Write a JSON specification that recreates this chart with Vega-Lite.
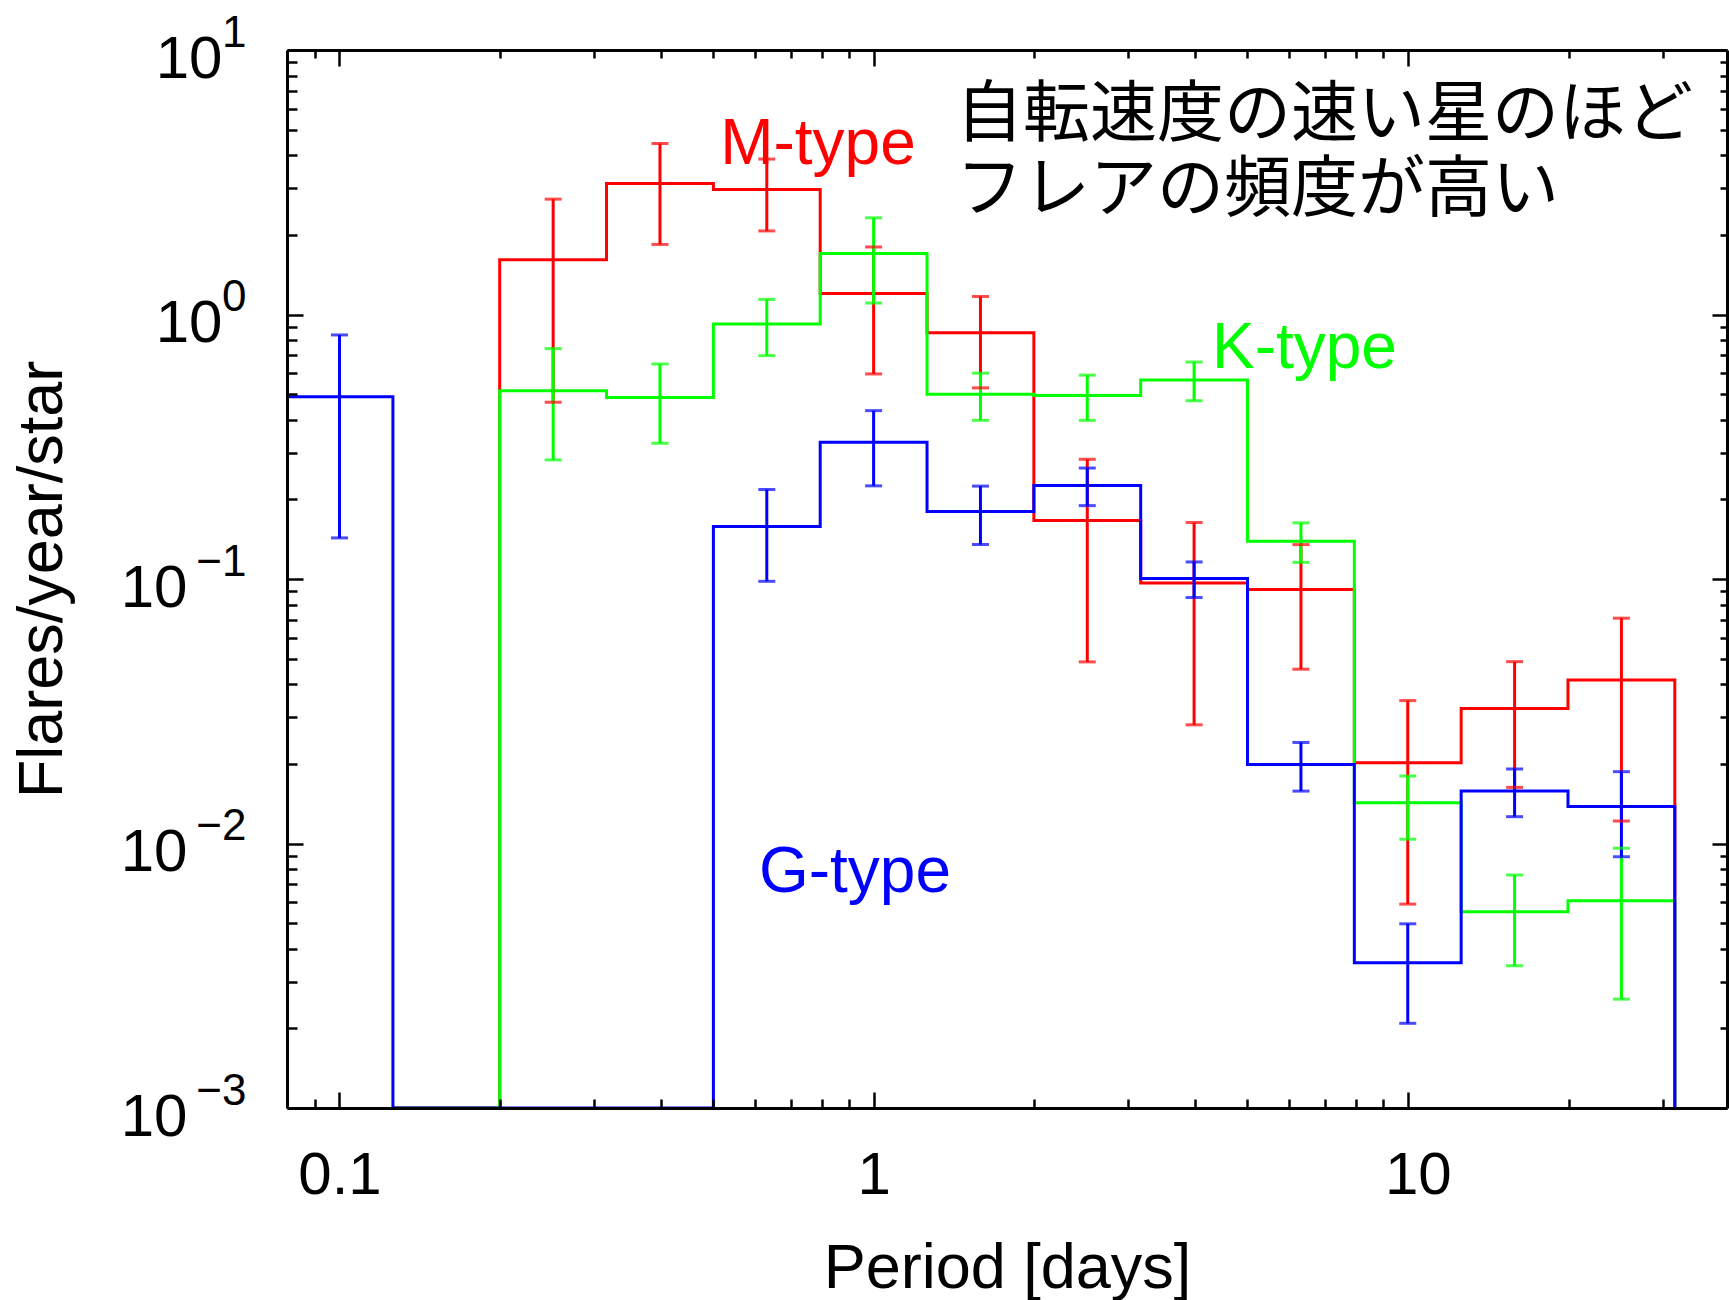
{
  "$schema": "https://vega.github.io/schema/vega-lite/v6.json",
  "width": 1440,
  "height": 1058,
  "autosize": {"type": "none"},
  "padding": {"left": 287, "top": 50, "right": 2, "bottom": 192},
  "background": "white",
  "config": {
    "view": {"stroke": null},
    "font": "Liberation Sans"
  },
  "datasets": {
    "steps": [
      {"type": "M", "period": 0.1259, "rate": 0.001},
      {"type": "M", "period": 0.1995, "rate": 1.61},
      {"type": "M", "period": 0.3162, "rate": 3.13},
      {"type": "M", "period": 0.5012, "rate": 2.97},
      {"type": "M", "period": 0.7943, "rate": 1.20},
      {"type": "M", "period": 1.2589, "rate": 0.853},
      {"type": "M", "period": 1.9953, "rate": 0.1663},
      {"type": "M", "period": 3.1623, "rate": 0.0966},
      {"type": "M", "period": 5.0119, "rate": 0.0913},
      {"type": "M", "period": 7.9433, "rate": 0.0202},
      {"type": "M", "period": 12.589, "rate": 0.0324},
      {"type": "M", "period": 19.953, "rate": 0.0415},
      {"type": "M", "period": 31.623, "rate": 0.001},
      {"type": "K", "period": 0.1259, "rate": 0.001},
      {"type": "K", "period": 0.1995, "rate": 0.515},
      {"type": "K", "period": 0.3162, "rate": 0.486},
      {"type": "K", "period": 0.5012, "rate": 0.921},
      {"type": "K", "period": 0.7943, "rate": 1.70},
      {"type": "K", "period": 1.2589, "rate": 0.499},
      {"type": "K", "period": 1.9953, "rate": 0.494},
      {"type": "K", "period": 3.1623, "rate": 0.565},
      {"type": "K", "period": 5.0119, "rate": 0.139},
      {"type": "K", "period": 7.9433, "rate": 0.01427},
      {"type": "K", "period": 12.589, "rate": 0.00552},
      {"type": "K", "period": 19.953, "rate": 0.00607},
      {"type": "K", "period": 31.623, "rate": 0.001},
      {"type": "G", "period": 0.0794, "rate": 0.489},
      {"type": "G", "period": 0.1259, "rate": 0.001},
      {"type": "G", "period": 0.5012, "rate": 0.158},
      {"type": "G", "period": 0.7943, "rate": 0.329},
      {"type": "G", "period": 1.2589, "rate": 0.180},
      {"type": "G", "period": 1.9953, "rate": 0.2255},
      {"type": "G", "period": 3.1623, "rate": 0.1005},
      {"type": "G", "period": 5.0119, "rate": 0.0199},
      {"type": "G", "period": 7.9433, "rate": 0.00354},
      {"type": "G", "period": 12.589, "rate": 0.0158},
      {"type": "G", "period": 19.953, "rate": 0.0138},
      {"type": "G", "period": 31.623, "rate": 0.001}
    ],
    "errs": [
      {"type": "M", "period": 0.2512, "lo": 0.466, "hi": 2.73},
      {"type": "M", "period": 0.3981, "lo": 1.84, "hi": 4.43},
      {"type": "M", "period": 0.631, "lo": 2.07, "hi": 3.87},
      {"type": "M", "period": 1.0, "lo": 0.596, "hi": 1.80},
      {"type": "M", "period": 1.585, "lo": 0.528, "hi": 1.17},
      {"type": "M", "period": 2.512, "lo": 0.0486, "hi": 0.2835},
      {"type": "M", "period": 3.981, "lo": 0.0281, "hi": 0.1635},
      {"type": "M", "period": 6.31, "lo": 0.0456, "hi": 0.1349},
      {"type": "M", "period": 10.0, "lo": 0.0059, "hi": 0.0347},
      {"type": "M", "period": 15.85, "lo": 0.0163, "hi": 0.0487},
      {"type": "M", "period": 25.12, "lo": 0.01216, "hi": 0.0711},
      {"type": "K", "period": 0.2512, "lo": 0.282, "hi": 0.743},
      {"type": "K", "period": 0.3981, "lo": 0.326, "hi": 0.650},
      {"type": "K", "period": 0.631, "lo": 0.699, "hi": 1.14},
      {"type": "K", "period": 1.0, "lo": 1.105, "hi": 2.32},
      {"type": "K", "period": 1.585, "lo": 0.398, "hi": 0.600},
      {"type": "K", "period": 2.512, "lo": 0.398, "hi": 0.590},
      {"type": "K", "period": 3.981, "lo": 0.472, "hi": 0.661},
      {"type": "K", "period": 6.31, "lo": 0.1156, "hi": 0.163},
      {"type": "K", "period": 10.0, "lo": 0.01038, "hi": 0.0180},
      {"type": "K", "period": 15.85, "lo": 0.00345, "hi": 0.0076},
      {"type": "K", "period": 25.12, "lo": 0.00258, "hi": 0.0096},
      {"type": "G", "period": 0.1, "lo": 0.143, "hi": 0.837},
      {"type": "G", "period": 0.631, "lo": 0.098, "hi": 0.218},
      {"type": "G", "period": 1.0, "lo": 0.225, "hi": 0.433},
      {"type": "G", "period": 1.585, "lo": 0.135, "hi": 0.2245},
      {"type": "G", "period": 2.512, "lo": 0.1894, "hi": 0.2627},
      {"type": "G", "period": 3.981, "lo": 0.0851, "hi": 0.116},
      {"type": "G", "period": 6.31, "lo": 0.01578, "hi": 0.0241},
      {"type": "G", "period": 10.0, "lo": 0.00209, "hi": 0.00497},
      {"type": "G", "period": 15.85, "lo": 0.01263, "hi": 0.01913},
      {"type": "G", "period": 25.12, "lo": 0.00891, "hi": 0.01869}
    ],
    "labels": [
      {"type": "M", "label": "M-type", "period": 0.516, "rate": 3.71},
      {"type": "K", "label": "K-type", "period": 4.30, "rate": 0.626},
      {"type": "G", "label": "G-type", "period": 0.610, "rate": 0.00657}
    ],
    "note": [
      {"text": "自転速度の速い星のほど\nフレアの頻度が高い", "period": 1.426, "rate": 4.75}
    ]
  },
  "resolve": {"axis": {"x": "independent", "y": "independent"}},
  "layer": [
    {
      "data": {"name": "steps"},
      "mark": {"type": "line", "interpolate": "step-after", "strokeWidth": 3, "clip": true},
      "encoding": {
        "x": {"field": "period", "type": "quantitative",
          "scale": {"type": "log", "domain": [0.07975, 39.6], "nice": false},
          "axis": {"orient": "bottom", "values": [0.09, 0.1, 0.2, 0.3, 0.4, 0.5, 0.6, 0.7, 0.8, 0.9, 1, 2, 3, 4, 5, 6, 7, 8, 9, 10, 20, 30],
            "labels": false, "title": null, "grid": false, "zindex": 1,
            "domain": true, "domainColor": "black", "domainWidth": 3,
            "tickColor": "black", "tickWidth": 2.5,
            "tickSize": {"condition": {"test": "abs(log(datum.value)/LN10 - round(log(datum.value)/LN10)) < 1e-6", "value": -16}, "value": -9}}},
        "y": {"field": "rate", "type": "quantitative",
          "scale": {"type": "log", "domain": [0.001, 10], "nice": false},
          "axis": {"orient": "left", "values": [0.001, 0.002, 0.003, 0.004, 0.005, 0.006, 0.007, 0.008, 0.009, 0.01, 0.02, 0.03, 0.04, 0.05, 0.06, 0.07, 0.08, 0.09, 0.1, 0.2, 0.3, 0.4, 0.5, 0.6, 0.7, 0.8, 0.9, 1, 2, 3, 4, 5, 6, 7, 8, 9, 10],
            "labels": false, "grid": false, "zindex": 1,
            "domain": true, "domainColor": "black", "domainWidth": 3,
            "tickColor": "black", "tickWidth": 2.5,
            "tickSize": {"condition": {"test": "abs(log(datum.value)/LN10 - round(log(datum.value)/LN10)) < 1e-6", "value": -16}, "value": -10},
            "title": "Flares/year/star", "titleFont": "Liberation Sans", "titleFontSize": 63, "titleFontWeight": "normal", "titleColor": "black",
            "titleX": -226, "titleY": 529, "titleAngle": -90, "titleAlign": "center", "titleBaseline": "alphabetic"}},
        "color": {"field": "type", "type": "nominal", "scale": {"domain": ["M", "K", "G"], "range": ["#ff0000", "#00ff00", "#0000ff"]}, "legend": null}
      }
    },
    {
      "data": {"name": "errs"},
      "mark": {"type": "rule", "strokeWidth": 3},
      "encoding": {
        "x": {"field": "period", "type": "quantitative",
          "scale": {"type": "log", "domain": [0.07975, 39.6], "nice": false},
          "axis": {"orient": "top", "values": [0.09, 0.1, 0.2, 0.3, 0.4, 0.5, 0.6, 0.7, 0.8, 0.9, 1, 2, 3, 4, 5, 6, 7, 8, 9, 10, 20, 30],
            "labels": false, "title": null, "grid": false, "zindex": 1,
            "domain": true, "domainColor": "black", "domainWidth": 3,
            "tickColor": "black", "tickWidth": 2.5,
            "tickSize": {"condition": {"test": "abs(log(datum.value)/LN10 - round(log(datum.value)/LN10)) < 1e-6", "value": -16}, "value": -8}}},
        "y": {"field": "lo", "type": "quantitative",
          "scale": {"type": "log", "domain": [0.001, 10], "nice": false},
          "axis": {"orient": "right", "values": [0.001, 0.002, 0.003, 0.004, 0.005, 0.006, 0.007, 0.008, 0.009, 0.01, 0.02, 0.03, 0.04, 0.05, 0.06, 0.07, 0.08, 0.09, 0.1, 0.2, 0.3, 0.4, 0.5, 0.6, 0.7, 0.8, 0.9, 1, 2, 3, 4, 5, 6, 7, 8, 9, 10],
            "labels": false, "title": null, "grid": false, "zindex": 1,
            "domain": true, "domainColor": "black", "domainWidth": 3,
            "tickColor": "black", "tickWidth": 2.5,
            "tickSize": {"condition": {"test": "abs(log(datum.value)/LN10 - round(log(datum.value)/LN10)) < 1e-6", "value": -15}, "value": -7}}},
        "y2": {"field": "hi"},
        "color": {"field": "type", "type": "nominal", "scale": {"domain": ["M", "K", "G"], "range": ["#ff0000", "#00ff00", "#0000ff"]}, "legend": null}
      }
    },
    {
      "data": {"name": "errs"},
      "mark": {"type": "tick", "orient": "horizontal", "size": 17, "thickness": 3},
      "encoding": {
        "x": {"field": "period", "type": "quantitative",
          "scale": {"type": "log", "domain": [0.07975, 39.6], "nice": false},
          "axis": {"orient": "bottom", "values": [0.1, 1, 10], "format": "~g",
            "ticks": false, "domain": false, "grid": false,
            "labelFont": "Liberation Sans", "labelFontSize": 60, "labelColor": "black", "labelBaseline": "alphabetic", "labelPadding": 85, "labelFlush": false,
            "labelOffset": {"condition": {"test": "datum.value > 5", "value": 10}, "value": 0},
            "title": "Period [days]", "titleFont": "Liberation Sans", "titleFontSize": 63, "titleFontWeight": "normal", "titleColor": "black",
            "titleY": 179, "titleBaseline": "alphabetic"}},
        "y": {"field": "lo", "type": "quantitative",
          "scale": {"type": "log", "domain": [0.001, 10], "nice": false},
          "axis": {"orient": "left", "values": [0.001, 0.01, 0.1, 1, 10],
            "labelExpr": "'10'", "ticks": false, "domain": false, "grid": false, "title": null,
            "labelFont": "Liberation Sans", "labelFontSize": 60, "labelColor": "black", "labelBaseline": "alphabetic", "labelAlign": "right",
            "labelOffset": 27, "labelFlush": false,
            "labelPadding": {"condition": {"test": "datum.value < 0.5", "value": 100}, "value": 65}}},
        "color": {"field": "type", "type": "nominal", "scale": {"domain": ["M", "K", "G"], "range": ["#ff0000", "#00ff00", "#0000ff"]}, "legend": null}
      }
    },
    {
      "data": {"name": "errs"},
      "mark": {"type": "tick", "orient": "horizontal", "size": 17, "thickness": 3},
      "encoding": {
        "x": {"field": "period", "type": "quantitative",
          "scale": {"type": "log", "domain": [0.07975, 39.6], "nice": false}, "axis": null},
        "y": {"field": "hi", "type": "quantitative",
          "scale": {"type": "log", "domain": [0.001, 10], "nice": false},
          "axis": {"orient": "left", "values": [0.001, 0.01, 0.1, 1, 10],
            "labelExpr": "format(round(log(datum.value)/LN10), 'd')", "ticks": false, "domain": false, "grid": false, "title": null,
            "labelFont": "Liberation Sans", "labelFontSize": 44, "labelColor": "black", "labelBaseline": "alphabetic", "labelAlign": "right",
            "labelOffset": -4, "labelPadding": 41, "labelFlush": false}},
        "color": {"field": "type", "type": "nominal", "scale": {"domain": ["M", "K", "G"], "range": ["#ff0000", "#00ff00", "#0000ff"]}, "legend": null}
      }
    },
    {
      "data": {"name": "labels"},
      "mark": {"type": "text", "align": "left", "baseline": "alphabetic", "font": "Liberation Sans", "fontSize": 64},
      "encoding": {
        "x": {"field": "period", "type": "quantitative", "scale": {"type": "log", "domain": [0.07975, 39.6], "nice": false}, "axis": null},
        "y": {"field": "rate", "type": "quantitative", "scale": {"type": "log", "domain": [0.001, 10], "nice": false}, "axis": null},
        "text": {"field": "label"},
        "color": {"field": "type", "type": "nominal", "scale": {"domain": ["M", "K", "G"], "range": ["#ff0000", "#00ff00", "#0000ff"]}, "legend": null}
      }
    },
    {
      "data": {"name": "note"},
      "mark": {"type": "text", "align": "left", "baseline": "alphabetic", "font": "Noto Sans CJK JP", "fontSize": 67, "lineBreak": "\n", "lineHeight": 75, "color": "black"},
      "encoding": {
        "x": {"field": "period", "type": "quantitative", "scale": {"type": "log", "domain": [0.07975, 39.6], "nice": false}, "axis": null},
        "y": {"field": "rate", "type": "quantitative", "scale": {"type": "log", "domain": [0.001, 10], "nice": false}, "axis": null},
        "text": {"field": "text"}
      }
    }
  ]
}
